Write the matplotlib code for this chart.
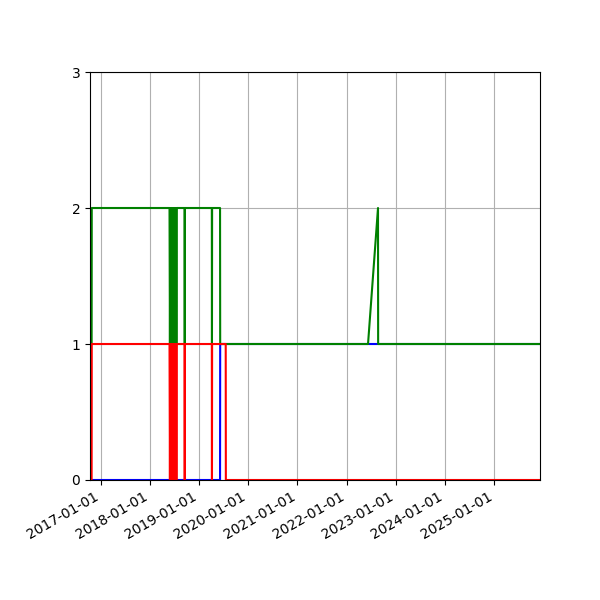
import pandas as pd
import matplotlib
matplotlib.use("Agg")
import matplotlib.pyplot as plt
import matplotlib.dates as mdates

blue_dates = ["2016-10-15", "2019-06-07", "2019-06-08", "2025-12-06"]
blue_vals = [0, 0, 1, 1]

red_dates = [
    "2016-10-15", "2016-10-27", "2016-10-28",
    "2018-05-28", "2018-05-31", "2018-06-03", "2018-06-06", "2018-06-09",
    "2018-06-12", "2018-06-15", "2018-06-18", "2018-06-21", "2018-06-24",
    "2018-06-27", "2018-06-30", "2018-07-03", "2018-07-06", "2018-07-09",
    "2018-07-12", "2018-07-15", "2018-07-18", "2018-07-21",
    "2018-09-17", "2018-09-18", "2018-09-19",
    "2019-04-07", "2019-04-08", "2019-04-09",
    "2019-07-19", "2019-07-20", "2025-12-06",
]
red_vals = [
    0, 0, 1,
    1, 0, 1, 0, 1, 0, 1, 0, 1, 0, 1, 0, 1, 0, 1, 0, 1, 0, 1,
    1, 0, 1,
    1, 0, 1,
    1, 0, 0,
]

green_dates = [
    "2016-10-15", "2016-10-27", "2016-10-28",
    "2018-05-28", "2018-05-31", "2018-06-03", "2018-06-06", "2018-06-09",
    "2018-06-12", "2018-06-15", "2018-06-18", "2018-06-21", "2018-06-24",
    "2018-06-27", "2018-06-30", "2018-07-03", "2018-07-06", "2018-07-09",
    "2018-07-12", "2018-07-15", "2018-07-18", "2018-07-21",
    "2018-09-17", "2018-09-18", "2018-09-19",
    "2019-04-07", "2019-04-08", "2019-04-09",
    "2019-06-07", "2019-06-08",
    "2022-06-09", "2022-08-22", "2022-08-23", "2025-12-06",
]
green_vals = [
    1, 1, 2,
    2, 1, 2, 1, 2, 1, 2, 1, 2, 1, 2, 1, 2, 1, 2, 1, 2, 1, 2,
    2, 1, 2,
    2, 1, 2,
    2, 1,
    1, 2, 1, 1,
]

fig, ax = plt.subplots(figsize=(6, 6), dpi=100)
ax.plot(pd.to_datetime(blue_dates), blue_vals, color="blue")
ax.plot(pd.to_datetime(green_dates), green_vals, color="green")
ax.plot(pd.to_datetime(red_dates), red_vals, color="red")

ax.set_xlim(pd.to_datetime(blue_dates[0]), pd.to_datetime(blue_dates[-1]))
ax.set_ylim(0, 3)
ax.set_yticks([0, 1, 2, 3])
ax.xaxis.set_major_locator(mdates.YearLocator())
ax.xaxis.set_major_formatter(mdates.DateFormatter("%Y-%m-%d"))
ax.grid(True)
fig.autofmt_xdate()
fig.subplots_adjust(left=0.15, right=0.9, top=0.88, bottom=0.2)
fig.savefig("out.png")
